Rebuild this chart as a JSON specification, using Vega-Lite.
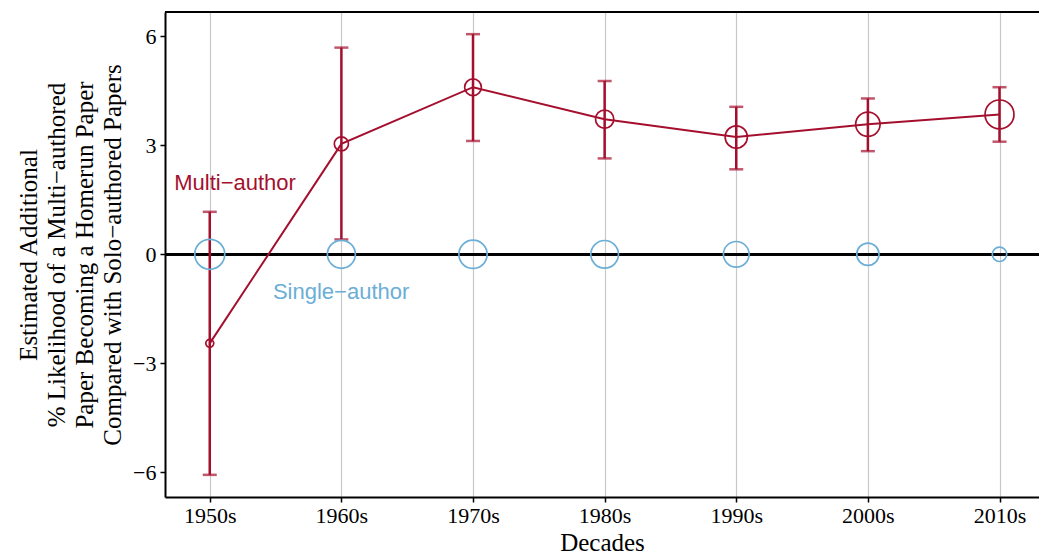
{
  "$schema": "https://vega.github.io/schema/vega-lite/v6.json",
  "autosize": "none",
  "width": 874,
  "height": 485,
  "padding": {"left": 165, "top": 12, "right": 0, "bottom": 57},
  "background": "white",
  "config": {
    "view": {"stroke": null},
    "axis": {"labelFont": "Liberation Serif", "titleFont": "Liberation Serif", "labelColor": "black", "titleColor": "black", "tickColor": "black", "domain": true, "domainColor": "black", "domainWidth": 2, "titleFontWeight": "normal"}
  },
  "data": {"values": [
    {"decade": 1950, "group": "Multi-author", "est": -2.45, "lo": -6.07, "hi": 1.17, "weight": 7},
    {"decade": 1960, "group": "Multi-author", "est": 3.04, "lo": 0.41, "hi": 5.69, "weight": 22},
    {"decade": 1970, "group": "Multi-author", "est": 4.60, "lo": 3.12, "hi": 6.06, "weight": 31},
    {"decade": 1980, "group": "Multi-author", "est": 3.72, "lo": 2.64, "hi": 4.77, "weight": 37},
    {"decade": 1990, "group": "Multi-author", "est": 3.23, "lo": 2.34, "hi": 4.06, "weight": 55},
    {"decade": 2000, "group": "Multi-author", "est": 3.58, "lo": 2.84, "hi": 4.29, "weight": 66},
    {"decade": 2010, "group": "Multi-author", "est": 3.85, "lo": 3.10, "hi": 4.60, "weight": 93},
    {"decade": 1950, "group": "Single-author", "est": 0, "weight": 100},
    {"decade": 1960, "group": "Single-author", "est": 0, "weight": 87},
    {"decade": 1970, "group": "Single-author", "est": 0, "weight": 89},
    {"decade": 1980, "group": "Single-author", "est": 0, "weight": 85},
    {"decade": 1990, "group": "Single-author", "est": 0, "weight": 73},
    {"decade": 2000, "group": "Single-author", "est": 0, "weight": 55},
    {"decade": 2010, "group": "Single-author", "est": 0, "weight": 23}
  ]},
  "encoding": {
    "x": {"field": "decade", "type": "quantitative",
      "scale": {"domain": [1946.6, 2013.0], "nice": false, "zero": false},
      "axis": {"values": [1950, 1960, 1970, 1980, 1990, 2000, 2010], "labelExpr": "datum.value + 's'", "title": "Decades",
        "labelFontSize": 22, "titleFontSize": 25, "tickSize": 5, "tickWidth": 1.5, "labelPadding": 3, "titlePadding": 4,
        "grid": true, "gridColor": "#c8c8c8", "gridWidth": 1.2}}
  },
  "layer": [
    {
      "mark": {"type": "rule", "color": "black", "strokeWidth": 2},
      "encoding": {
        "y": {"datum": 0, "type": "quantitative",
          "scale": {"domain": [-6.68, 6.67], "nice": false, "zero": false},
          "axis": {"values": [-6, -3, 0, 3, 6], "labelExpr": "replace(format(datum.value, 'd'), '-', '\u2212')", "grid": false,
            "title": ["Estimated Additional", "% Likelihood of a Multi\u2212authored", "Paper Becoming a Homerun Paper", "Compared with Solo\u2212authored Papers"],
            "labelFontSize": 22, "titleFontSize": 25, "titleLineHeight": 28, "tickSize": 5, "tickWidth": 1.5, "labelPadding": 4, "titlePadding": 7}},
        "x": {"value": 0}, "x2": {"value": 874}
      }
    },
    {
      "mark": {"type": "rule", "color": "black", "strokeWidth": 2},
      "encoding": {"y": {"value": 0}, "x": {"value": 0}, "x2": {"value": 874}}
    },
    {
      "transform": [{"filter": "datum.group === 'Multi-author'"}],
      "mark": {"type": "rule", "color": "#a50f2e", "strokeWidth": 2.5},
      "encoding": {"y": {"field": "lo", "type": "quantitative"}, "y2": {"field": "hi"}}
    },
    {
      "transform": [{"filter": "datum.group === 'Multi-author'"}],
      "mark": {"type": "tick", "orient": "horizontal", "color": "#a50f2e", "size": 14, "thickness": 2.5},
      "encoding": {"y": {"field": "lo", "type": "quantitative"}}
    },
    {
      "transform": [{"filter": "datum.group === 'Multi-author'"}],
      "mark": {"type": "tick", "orient": "horizontal", "color": "#a50f2e", "size": 14, "thickness": 2.5},
      "encoding": {"y": {"field": "hi", "type": "quantitative"}}
    },
    {
      "transform": [{"filter": "datum.group === 'Multi-author'"}],
      "mark": {"type": "line", "color": "#a50f2e", "strokeWidth": 2},
      "encoding": {"y": {"field": "est", "type": "quantitative"}}
    },
    {
      "mark": {"type": "point", "shape": "circle", "filled": false, "strokeWidth": 1.7, "opacity": 1},
      "encoding": {
        "y": {"field": "est", "type": "quantitative"},
        "color": {"field": "group", "type": "nominal", "scale": {"domain": ["Multi-author", "Single-author"], "range": ["#a50f2e", "#6baed6"]}, "legend": null},
        "size": {"field": "weight", "type": "quantitative", "scale": {"domain": [0, 100], "range": [0, 900], "zero": true}, "legend": null}
      }
    },
    {
      "data": {"values": [
        {"label": "Multi\u2212author", "lx": 1947.3, "ly": 1.96, "group": "Multi-author"},
        {"label": "Single\u2212author", "lx": 1954.8, "ly": -1.04, "group": "Single-author"}
      ]},
      "mark": {"type": "text", "align": "left", "baseline": "middle", "font": "Liberation Sans", "fontSize": 22},
      "encoding": {
        "x": {"field": "lx", "type": "quantitative"},
        "y": {"field": "ly", "type": "quantitative"},
        "text": {"field": "label"},
        "color": {"field": "group", "type": "nominal", "legend": null}
      }
    }
  ]
}
